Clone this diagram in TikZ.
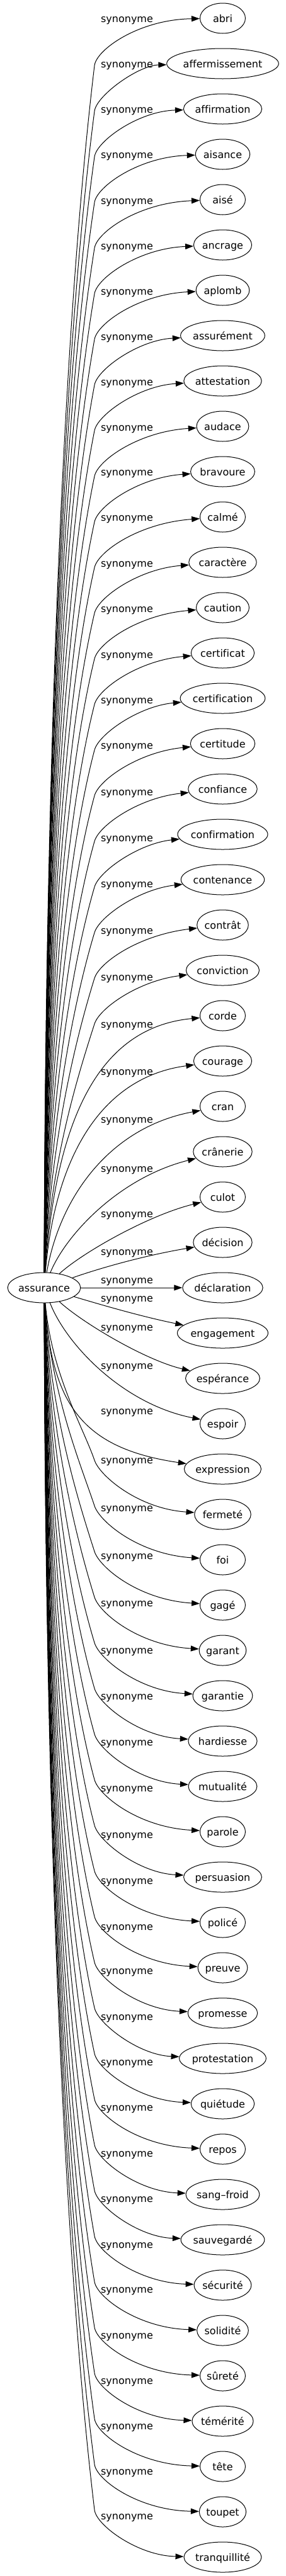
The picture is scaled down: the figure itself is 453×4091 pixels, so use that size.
\documentclass[tikz,border=0pt]{standalone}
\usepackage{fontspec}
\setmainfont{DejaVu Sans}[Ligatures=NoCommon]
\newfontfamily\tms{Liberation Serif}[Ligatures=NoCommon]
\usetikzlibrary{shapes.geometric,arrows.meta}
\newlength\tw
\begin{document}
\begin{tikzpicture}[x=1pt,y=-1pt,
  word/.style={ellipse,draw,line width=1pt,inner sep=0pt,minimum height=48pt,
    text height=12pt,text depth=0pt,font=\fontsize{16}{19}\selectfont},
  lab/.style={inner sep=0pt,anchor=base,font=\fontsize{16}{19}\selectfont},
  edge/.style={line width=1pt,-{Triangle[length=13pt,width=9pt]}}]
\useasboundingbox (0,0) rectangle (453,4091);
% root
\settowidth\tw{\tms\fontsize{18.67}{22}\selectfont assurance}
\pgfmathsetmacro\nw{max(72,(\tw+21.33)*1.4142-3)}
\node[word,minimum width=\nw pt] (root) at (70,2045) {assurance};
% targets
\foreach \w [count=\i from 0] in {abri,affermissement,affirmation,aisance,aisé,ancrage,aplomb,assurément,attestation,audace,bravoure,calmé,caractère,caution,certificat,certification,certitude,confiance,confirmation,contenance,contrât,conviction,corde,courage,cran,crânerie,culot,décision,déclaration,engagement,espérance,espoir,expression,fermeté,foi,gagé,garant,garantie,hardiesse,mutualité,parole,persuasion,policé,preuve,promesse,protestation,quiétude,repos,sang–froid,sauvegardé,sécurité,solidité,sûreté,témérité,tête,toupet,tranquillité}{
  \settowidth\tw{\tms\fontsize{18.67}{22}\selectfont \w}
  \pgfmathsetmacro\nw{max(72,(\tw+21.33)*1.4142-3)}
  \node[word,minimum width=\nw pt] (n\i) at (353.5,{29+72*\i}) {\w};
}
% labels
\foreach \ly [count=\i from 0] in {30,102,174,246,319,391,463,535,607,679,750,822,895,967,
  1040,1112,1184,1258,1331,1404,1478,1552,1627,1702,1778,1856,1928,1988,2033,
  2062,2108,2169,2241,2319,2395,2471,2546,2621,2694,2767,2840,2914,2987,
  3060,3130,3203,3275,3347,3420,3492,3565,3636,3709,3781,3853,3925,3996}{
  \node[lab] (l\i) at (201.5,\ly+5) {synonyme};
}
% far top edges
\foreach \i in {0,...,21}{
  \pgfmathsetmacro\yT{29+72*\i}
  \pgfmathsetmacro\yK{\yT+75+10*\i/21}
  \pgfmathsetmacro\kx{0.12+0.2*\i/21}
  \pgfmathsetmacro\D{2021-\yK}
  \draw[edge] (root) .. controls ({72+0.4*\i},{2021-0.45*\D}) and ({150-0.2*\D*\kx},{\yK+0.2*\D}) .. (150,\yK)
    .. controls ({150+25*\kx},{\yK-25}) and (220,{\yT+2+0.7*\i}) .. (n\i);
}
% far bottom edges
\foreach \i in {33,...,56}{
  \pgfmathsetmacro\m{56-\i}
  \pgfmathsetmacro\yT{29+72*\i}
  \pgfmathsetmacro\yK{\yT-75-10*\m/21}
  \pgfmathsetmacro\kx{0.12+0.2*\m/21}
  \pgfmathsetmacro\D{\yK-2069}
  \draw[edge] (root) .. controls ({72+0.4*\m},{2069+0.45*\D}) and ({150-0.2*\D*\kx},{\yK-0.2*\D}) .. (150,\yK)
    .. controls ({150+25*\kx},{\yK+25}) and (220,{\yT-2-0.3*\m}) .. (n\i);
}
% near edges
\draw[edge] (root) .. controls (88,1790) and (150,1632) .. (n22);
\draw[edge] (root) .. controls (88,1830) and (165,1710) .. (n23);
\draw[edge] (root) .. controls (95,1900) and (175,1790) .. (n24);
\draw[edge] (root) .. controls (105,1960) and (190,1870) .. (n25);
\draw[edge] (root) .. controls (130,1990) and (235,1930) .. (n26);
\draw[edge] (root) .. controls (170,2010) and (240,1992) .. (n27);
\draw[edge] (root) -- (n28);
\draw[edge] (root) .. controls (170,2075) and (230,2092) .. (n29);
\draw[edge] (root) .. controls (130,2100) and (230,2160) .. (n30);
\draw[edge] (root) .. controls (105,2135) and (195,2230) .. (n31);
\draw[edge] (root) .. controls (82,2230) and (130,2300) .. (n32);
\end{tikzpicture}
\end{document}
